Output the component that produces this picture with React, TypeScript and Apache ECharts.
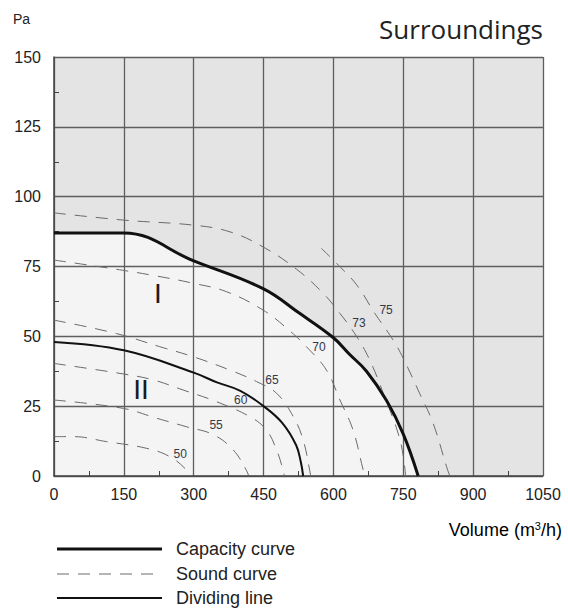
import React, { useEffect, useRef } from "react";
import * as echarts from "echarts";

const xTickValues = [0, 150, 300, 450, 600, 750, 900, 1050];
const yTickValues = [0, 25, 50, 75, 100, 125, 150];

const capacityCurve = [
  [0, 87], [150, 87], [300, 77], [450, 67], [525, 58.5], [600, 49.5],
  [635, 43.5], [671, 37.5], [714, 27], [750, 15], [782, 0],
];
const dividingLine = [
  [0, 48], [150, 45], [300, 37], [350, 33.5], [400, 30.5], [450, 25],
  [490, 19], [520, 11], [530, 5], [535, 0],
];
const sound50 = [[0, 14.1], [41, 14.1], [113, 12.3], [199, 9.9], [249, 6.9], [285, 2.1], [292, 0]];
const sound55 = [[0, 27.2], [149, 24.2], [220, 20.7], [285, 17.6], [342, 14.8], [385, 9.3], [413, 2.1], [418, 0]];
const sound60 = [[0, 40.3], [150, 36.5], [213, 34.4], [277, 30.8], [349, 26.6], [421, 21.2], [456, 16.5], [478, 9.3], [492, 2.1], [495, 0]];
const sound65 = [[0, 55.8], [134, 51], [227, 46.3], [299, 42.7], [378, 37.9], [435, 33.8], [478, 29.6], [514, 21.2], [535, 12.9], [549, 2.1], [551, 0]];
const sound70 = [[0, 77.3], [134, 74], [220, 71.6], [299, 69], [370, 66], [449, 59.4], [506, 52], [542, 46.3], [585, 37.9], [614, 27.2], [642, 16.5], [664, 2.1], [668, 0]];
const sound73 = [[0, 94.2], [150, 91.6], [300, 89.8], [378, 87.4], [449, 82], [521, 74], [578, 65.4], [614, 58.2], [650, 49.9], [678, 41.5], [707, 29.6], [743, 12.9], [755, 0]];
const sound75 = [[574, 81.5], [607, 76.1], [650, 68.4], [689, 58.2], [728, 48.7], [750, 42.1], [785, 29.6], [814, 18.9], [843, 3.3], [850, 0]];

const soundLabelText = ["50", "55", "60", "65", "70", "73", "75"];
const soundLabelX = [271, 348, 401, 468, 569, 655, 713];
const soundLabelY = [7.9, 18.3, 27.2, 34.4, 46.2, 54.8, 59.4];

const zoneText = ["I", "II"];
const zoneX = [223, 187];
const zoneY = [65.5, 30.8];

const legendNames = ["Capacity curve", "Sound curve", "Dividing line"];

export default function App() {
  const ref = useRef<HTMLDivElement>(null);
  useEffect(() => {
    document.body.style.margin = "0";
    const chart = echarts.init(ref.current!, null, { renderer: "svg" });
    const font = "Liberation Sans, Arial, sans-serif";
    const soundCurves = [sound50, sound55, sound60, sound65, sound70, sound73, sound75];
    const dashed = { type: [12, 9], color: "#6a6a6a", width: 1 };
    const curveCommon = { type: "line", symbol: "none", smooth: 0.4, silent: true };
    const soundSeries = soundCurves.map((d, i) => ({
      ...curveCommon,
      name: "sound" + soundLabelText[i],
      data: d,
      z: 3,
      lineStyle: dashed,
    }));
    const axisCommon = {
      type: "value",
      z: 2,
      axisLine: { show: true, lineStyle: { color: "#444", width: 1.5 } },
      axisTick: { show: false, inside: true },
      minorTick: { show: true, splitNumber: 2, length: 5, lineStyle: { color: "#444", width: 1 } },
      splitLine: { show: true, lineStyle: { color: "#5e5e5e", width: 1.3 } },
      axisLabel: { color: "#222", fontSize: 16, fontFamily: font },
    };
    const legendY = [549, 574, 598];
    const legendGraphics: any[] = [];
    legendNames.forEach((n, i) => {
      legendGraphics.push({
        type: "line",
        shape: { x1: 57, y1: legendY[i], x2: 162, y2: legendY[i] },
        style: i === 1
          ? { stroke: "#6a6a6a", lineWidth: 1, lineDash: [12, 9] }
          : { stroke: "#111", lineWidth: i === 0 ? 3 : 2 },
      });
      legendGraphics.push({
        type: "text",
        x: 176,
        y: legendY[i],
        style: { text: n, fontSize: 18, fontFamily: font, fill: "#222", verticalAlign: "middle" },
      });
    });
    const hidden = { color: "rgba(0,0,0,0)" };
    const labelBase = { show: true, position: "inside", formatter: (p: any) => p.data[2], fontFamily: font, textBorderWidth: 0, opacity: 1 };
    chart.setOption({
      animation: false,
      grid: {
        left: 54, right: 25, top: 57, bottom: 136,
        show: true, backgroundColor: "#e4e4e4", borderWidth: 0, z: 0,
      },
      xAxis: {
        ...axisCommon,
        min: 0, max: 1050, interval: 150,
        axisLabel: { ...axisCommon.axisLabel, margin: 10, formatter: (v: number) => (xTickValues.includes(v) ? String(v) : "") },
      },
      yAxis: {
        ...axisCommon,
        min: 0, max: 150, interval: 25,
        axisLabel: { ...axisCommon.axisLabel, margin: 13, formatter: (v: number) => (yTickValues.includes(v) ? String(v) : "") },
      },
      graphic: [
        { type: "text", x: 13, y: 19, style: { text: "Pa", fontSize: 14, fontFamily: font, fill: "#222", verticalAlign: "middle" } },
        { type: "text", right: 25, top: 16, style: { text: "Surroundings", fontSize: 26, fontFamily: "Open Sans, Noto Sans, sans-serif", fill: "#222" } },
        {
          type: "text", right: 6, top: 520,
          style: {
            text: "{a|Volume (m}{s|3}{a|/h)}",
            rich: {
              a: { fontSize: 18, fontFamily: font, color: "#222" },
              s: { fontSize: 11, fontFamily: font, color: "#222", verticalAlign: "top", padding: [0, 0, 8, 0] },
            },
          },
        },
        ...legendGraphics,
      ],
      series: [
        {
          ...curveCommon, name: "area", data: capacityCurve, z: 1,
          lineStyle: { width: 0 }, areaStyle: { color: "#f4f4f4", opacity: 1, origin: "start" },
        },
        ...soundSeries,
        {
          ...curveCommon, name: "dividing", data: dividingLine, z: 4,
          lineStyle: { color: "#111", width: 2 },
        },
        {
          ...curveCommon, name: "capacity", data: capacityCurve, z: 5,
          lineStyle: { color: "#111", width: 3 },
        },
        {
          type: "scatter", name: "soundLabels", z: 6, symbolSize: 2, itemStyle: hidden,
          data: soundLabelX.map((x, i) => [x, soundLabelY[i], soundLabelText[i]]),
          label: { ...labelBase, fontSize: 12, color: "#333846" },
          silent: true,
        },
        {
          type: "scatter", name: "zones", z: 6, symbolSize: 2, itemStyle: hidden,
          data: zoneX.map((x, i) => [x, zoneY[i], zoneText[i]]),
          label: { ...labelBase, fontSize: 28, color: "#1a1a1a" },
          silent: true,
        },
      ],
    });
    return () => chart.dispose();
  }, []);
  return <div ref={ref} style={{ width: 568, height: 612 }} />;
}
